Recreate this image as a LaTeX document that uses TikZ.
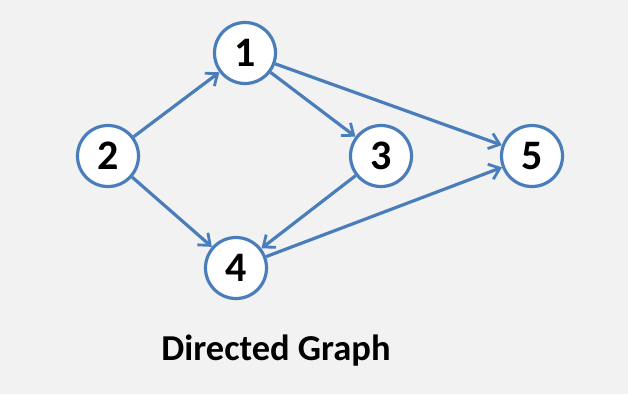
\documentclass[tikz,border=0pt]{standalone}
\usepackage{fontspec}
\setmainfont{Carlito}
\usepackage{tikz}
\usetikzlibrary{arrows.meta}
\usepackage{xcolor}
\definecolor{edgeblue}{HTML}{4A7EBB}
\definecolor{paper}{HTML}{F2F2F2}
\tikzset{
  vertex/.style={circle,draw=edgeblue,fill=white,line width=3.2pt,
    minimum size=61pt,inner sep=0pt,font=\fontsize{42}{46}\selectfont\bfseries},
  arrow/.style={-{Straight Barb[length=10pt,width=16pt,line width=2.8pt]},draw=edgeblue,line width=3.2pt},
  caption/.style={font=\fontsize{36.5}{42}\selectfont\bfseries}
}

\begin{document}
\begin{tikzpicture}[x=1pt,y=-1pt]
      \fill[paper] (0,0) rectangle (628,394);
      \useasboundingbox (0,0) rectangle (628,394);
      \node[vertex] (v1) at (245,53) {1};
      \node[vertex] (v2) at (108,156) {2};
      \node[vertex] (v3) at (381,156) {3};
      \node[vertex] (v5) at (532,156) {5};
      \node[vertex] (v4) at (236,268) {4};
      \draw[arrow] (v2)--(v1);
      \draw[arrow] (v1)--(v3);
      \draw[arrow] (v1)--(v5);
      \draw[arrow] (v2)--(v4);
      \draw[arrow] (v3)--(v4);
      \draw[arrow] (v4)--(v5);
      \node[caption] (title) at (276,351) {Directed Graph};
    \end{tikzpicture}
\end{document}
